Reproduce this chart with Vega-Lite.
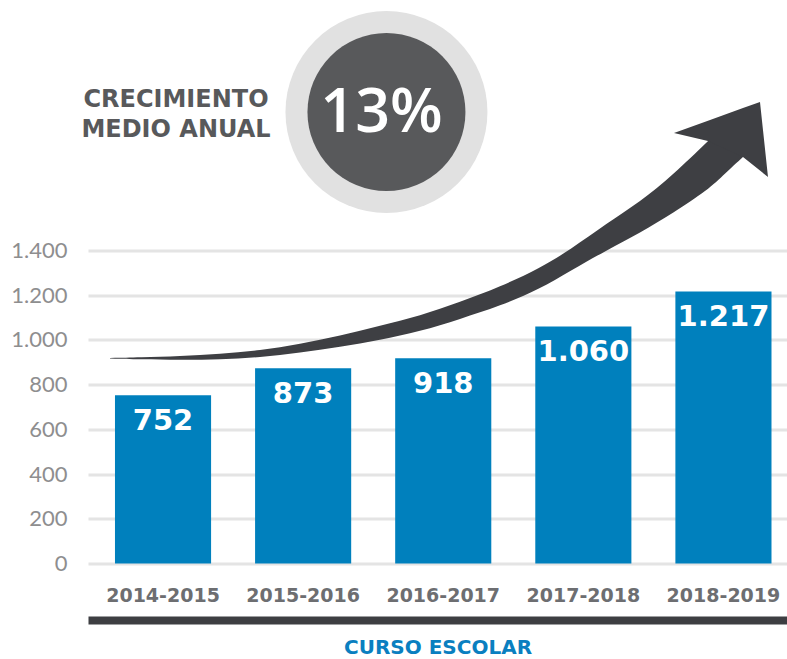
{
  "$schema": "https://vega.github.io/schema/vega-lite/v6.json",
  "width": 699,
  "height": 559,
  "autosize": {"type": "none"},
  "padding": {"left": 88, "top": 4.5, "right": 0, "bottom": 95.5},
  "background": "white",
  "config": {"view": {"stroke": null}},
  "datasets": {
    "matricula": [
      {"curso": "2014-2015", "valor": 752, "etiqueta": "752"},
      {"curso": "2015-2016", "valor": 873, "etiqueta": "873"},
      {"curso": "2016-2017", "valor": 918, "etiqueta": "918"},
      {"curso": "2017-2018", "valor": 1060, "etiqueta": "1.060"},
      {"curso": "2018-2019", "valor": 1217, "etiqueta": "1.217"}
    ],
    "flecha": [
      {"x": -0.3783, "valor": 919.1, "valor2": 916.4},
      {"x": -0.1642, "valor": 922.2, "valor2": 913.2},
      {"x": 0.1213, "valor": 928.0, "valor2": 910.1},
      {"x": 0.4069, "valor": 936.9, "valor2": 912.3},
      {"x": 0.6924, "valor": 952.6, "valor2": 921.3},
      {"x": 0.9779, "valor": 981.7, "valor2": 943.7},
      {"x": 1.2634, "valor": 1017.4, "valor2": 968.3},
      {"x": 1.5489, "valor": 1064.4, "valor2": 999.6},
      {"x": 1.8344, "valor": 1106.9, "valor2": 1037.6},
      {"x": 2.1199, "valor": 1169.5, "valor2": 1093.5},
      {"x": 2.4054, "valor": 1236.6, "valor2": 1151.6},
      {"x": 2.6909, "valor": 1321.6, "valor2": 1227.6},
      {"x": 2.9051, "valor": 1402.1, "valor2": 1308.1},
      {"x": 3.1692, "valor": 1522.8, "valor2": 1402.1},
      {"x": 3.4047, "valor": 1616.7, "valor2": 1478.1},
      {"x": 3.6403, "valor": 1737.5, "valor2": 1567.5},
      {"x": 3.8901, "valor": 1889.5, "valor2": 1670.4},
      {"x": 4.0114, "valor": 1961.1, "valor2": 1744.2},
      {"x": 4.1399, "valor": 2005.8, "valor2": 1818.0}
    ],
    "punta": [
      {"x": 3.6474, "valor": 1925.3, "valor2": 1925.3},
      {"x": 3.8901, "valor": 1980.3, "valor2": 1889.5},
      {"x": 4.1399, "valor": 2036.7, "valor2": 1818.0},
      {"x": 4.2612, "valor": 2064.0, "valor2": 1757.2},
      {"x": 4.3183, "valor": 1728.5, "valor2": 1728.5}
    ],
    "circulo": [{"x": 1.595, "valor": 2019}],
    "cifra": [{"x": 1.5596, "valor": 1929.8, "texto": "13%"}],
    "rotulo": [
      {"x": 0.0928, "valor": 2041.6, "texto": "CRECIMIENTO"},
      {"x": 0.0928, "valor": 1907.4, "texto": "MEDIO ANUAL"}
    ]
  },
  "encoding": {
    "y": {
      "field": "valor",
      "type": "quantitative",
      "scale": {"domain": [0, 2500], "nice": false},
      "axis": {
        "title": null,
        "values": [0, 200, 400, 600, 800, 1000, 1200, 1400],
        "labelExpr": "replace(format(datum.value, ','), ',', '.')",
        "labelFont": "Lato",
        "labelFontWeight": "normal",
        "labelFontSize": 22,
        "labelColor": "#8e8e8f",
        "labelPadding": 21,
        "ticks": false,
        "domain": false,
        "grid": true,
        "gridColor": "#e4e4e4",
        "gridWidth": 3
      }
    }
  },
  "layer": [
    {
      "data": {"name": "matricula"},
      "mark": {"type": "bar", "color": "#0080bd"},
      "encoding": {
        "x": {
          "field": "curso",
          "type": "nominal",
          "sort": null,
          "scale": {"type": "band", "paddingInner": 0.314, "paddingOuter": 0.1516, "align": 0.635},
          "axis": {
            "title": "CURSO ESCOLAR",
            "titleColor": "#0a7fc0",
            "titleFont": "DejaVu Sans",
            "titleFontWeight": "bold",
            "titleFontSize": 20,
            "titlePadding": 17,
            "labelFont": "DejaVu Sans",
            "labelFontWeight": "bold",
            "labelFontSize": 19,
            "labelColor": "#6d6e71",
            "labelAngle": 0,
            "labelPadding": -25,
            "labelBaseline": "middle",
            "ticks": false,
            "domainColor": "#3d3e42",
            "domainWidth": 8,
            "offset": 56.5,
            "grid": false
          }
        }
      }
    },
    {
      "data": {"name": "matricula"},
      "mark": {"type": "text", "color": "white", "font": "DejaVu Sans", "fontWeight": "bold", "fontSize": 29, "baseline": "alphabetic", "dy": 35},
      "encoding": {
        "x": {"field": "curso", "type": "nominal", "sort": null, "scale": {"type": "band", "paddingInner": 0.314, "paddingOuter": 0.1516, "align": 0.635}, "axis": null},
        "text": {"field": "etiqueta"}
      }
    },
    {
      "data": {"name": "flecha"},
      "mark": {"type": "area", "interpolate": "basis", "color": "#3e3f43"},
      "encoding": {
        "x": {"field": "x", "type": "quantitative", "scale": {"domain": [-0.5353, 4.454], "nice": false, "zero": false}, "axis": null},
        "y2": {"field": "valor2"}
      }
    },
    {
      "data": {"name": "punta"},
      "mark": {"type": "area", "interpolate": "linear", "color": "#3e3f43"},
      "encoding": {
        "x": {"field": "x", "type": "quantitative", "scale": {"domain": [-0.5353, 4.454], "nice": false, "zero": false}, "axis": null},
        "y2": {"field": "valor2"}
      }
    },
    {
      "data": {"name": "circulo"},
      "mark": {"type": "point", "shape": "circle", "filled": true, "size": 40804, "color": "#e1e1e1", "opacity": 1, "strokeWidth": 0},
      "encoding": {
        "x": {"field": "x", "type": "quantitative", "scale": {"domain": [-0.5353, 4.454], "nice": false, "zero": false}, "axis": null}
      }
    },
    {
      "data": {"name": "circulo"},
      "mark": {"type": "point", "shape": "circle", "filled": true, "size": 24964, "color": "#58595b", "opacity": 1, "strokeWidth": 0},
      "encoding": {
        "x": {"field": "x", "type": "quantitative", "scale": {"domain": [-0.5353, 4.454], "nice": false, "zero": false}, "axis": null}
      }
    },
    {
      "data": {"name": "cifra"},
      "mark": {"type": "text", "color": "white", "font": "Open Sans", "fontWeight": 600, "fontSize": 61, "baseline": "alphabetic", "align": "center"},
      "encoding": {
        "x": {"field": "x", "type": "quantitative", "scale": {"domain": [-0.5353, 4.454], "nice": false, "zero": false}, "axis": null},
        "text": {"field": "texto"}
      }
    },
    {
      "data": {"name": "rotulo"},
      "mark": {"type": "text", "color": "#58595b", "font": "DejaVu Sans", "fontWeight": "bold", "fontSize": 24, "baseline": "alphabetic", "align": "center"},
      "encoding": {
        "x": {"field": "x", "type": "quantitative", "scale": {"domain": [-0.5353, 4.454], "nice": false, "zero": false}, "axis": null},
        "text": {"field": "texto"}
      }
    }
  ],
  "resolve": {"scale": {"x": "independent"}}
}
